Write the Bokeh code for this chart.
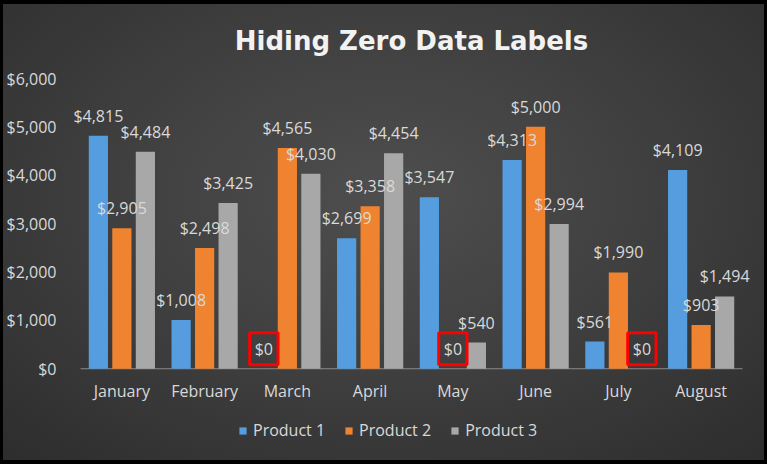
from bokeh.plotting import figure
from bokeh.models import (ColumnDataSource, FactorRange, Range1d, Legend, LegendItem,
                          NumeralTickFormatter, FixedTicker)
from bokeh.transform import dodge
from bokeh.core.properties import value
from bokeh.embed import file_html
from bokeh.resources import INLINE

months = ["January", "February", "March", "April", "May", "June", "July", "August"]
product1 = [4815, 1008, 0, 2699, 3547, 4313, 561, 4109]
product2 = [2905, 2498, 4565, 3358, 0, 5000, 1990, 903]
product3 = [4484, 3425, 4030, 4454, 540, 2994, 0, 1494]
series_names = ["Product 1", "Product 2", "Product 3"]
y_ticks = [0, 1000, 2000, 3000, 4000, 5000, 6000]
title_text = "Hiding Zero Data Labels"

colors = ["#559ddf", "#f0832f", "#a8a8a8"]
offsets = [-0.284, 0.0, 0.284]
bar_w = 0.232
txt = "#d9d9d9"
font = "Open Sans"

# layout (pixels)
cat_left, cat_right = 80, 742          # extent of the category axis line
side_pad = 12                          # extra frame room so edge labels are not clipped
frame_top, axis_y, frame_bottom = 77, 368, 460
y_max = 6000
y_min = -y_max * (frame_bottom - axis_y) / (axis_y - frame_top)
px_per_cat = (cat_right - cat_left) / len(months)
pad_units = side_pad / px_per_cat

p = figure(width=767, height=464,
           x_range=FactorRange(*months, range_padding=pad_units, range_padding_units="absolute"),
           y_range=Range1d(y_min, y_max),
           output_backend="svg", toolbar_location=None,
           min_border_left=cat_left - side_pad, min_border_right=767 - cat_right - side_pad,
           min_border_top=frame_top, min_border_bottom=464 - frame_bottom)

p.styles = {
    "background": "radial-gradient(ellipse 75% 80% at 50% 42%, #4e4e4e 0%, #404040 45%, #2c2c2c 100%)",
    "box-shadow": "inset 3px 4px 0 0 #000, inset -3px -4px 0 0 #000",
}
p.background_fill_color = None
p.border_fill_color = None
p.outline_line_color = None
p.grid.visible = False

p.title.text = title_text
p.title.align = "center"
p.title.text_font = "DejaVu Sans"
p.title.text_font_style = "bold"
p.title.text_font_size = "26px"
p.title.text_color = "#f2f2f2"
p.title.standoff = 46

p.yaxis.ticker = FixedTicker(ticks=y_ticks)
p.yaxis.formatter = NumeralTickFormatter(format="$0,0")
p.yaxis.axis_line_color = None
p.yaxis.major_tick_line_color = None
p.yaxis.minor_tick_line_color = None
p.yaxis.major_label_text_color = txt
p.yaxis.major_label_text_font = font
p.yaxis.major_label_text_font_size = "16px"
p.yaxis.major_label_standoff = 6
p.xaxis.visible = False

# category axis line
asrc = ColumnDataSource(dict(a=[months[0]], b=[months[-1]], y=[0]))
p.segment(x0=dodge("a", -0.5, range=p.x_range), x1=dodge("b", 0.5, range=p.x_range),
          y0="y", y1="y", source=asrc, line_color="#8a8a8a", line_width=1)

# month labels under the axis line
msrc = ColumnDataSource(dict(month=months, y=[0] * len(months)))
p.text(x="month", y="y", text="month", source=msrc, text_align="center",
       text_baseline="middle", y_offset=22, text_color=txt, text_font=value(font),
       text_font_size="16px")

all_vals = [product1, product2, product3]
items = []
for name, vals, col, off in zip(series_names, all_vals, colors, offsets):
    src = ColumnDataSource(dict(month=months, val=vals))
    r = p.vbar(x=dodge("month", off, range=p.x_range), top="val", width=bar_w, source=src,
               fill_color=col, line_color=None)
    items.append(LegendItem(label=name, renderers=[r]))

for vals, off in zip(all_vals, offsets):
    nz = [i for i, v in enumerate(vals) if v != 0]
    z = [i for i, v in enumerate(vals) if v == 0]
    src_nz = ColumnDataSource(dict(month=[months[i] for i in nz], val=[vals[i] for i in nz],
                                   label=["${:,}".format(vals[i]) for i in nz]))
    p.text(x=dodge("month", off, range=p.x_range), y="val", text="label", source=src_nz,
           text_align="center", text_baseline="middle", y_offset=-20,
           text_color=txt, text_font=value(font), text_font_size="16px")
    if z:
        src_z = ColumnDataSource(dict(month=[months[i] for i in z], val=[vals[i] for i in z],
                                      label=["${:,}".format(vals[i]) for i in z]))
        p.text(x=dodge("month", off, range=p.x_range), y="val", text="label", source=src_z,
               text_align="center", text_baseline="middle", y_offset=-20,
               text_color=txt, text_font=value(font), text_font_size="16px",
               border_line_color="#ff0000", border_line_width=3, padding=5)

legend = Legend(items=items, orientation="horizontal",
                location=(238 - (cat_left - side_pad), 19),
                background_fill_alpha=0, border_line_color=None, padding=0, margin=0,
                label_text_color=txt, label_text_font=font, label_text_font_size="16px",
                glyph_width=9, glyph_height=9, label_standoff=6, spacing=19)
p.add_layout(legend, "center")

open("out.html", "w").write(file_html(p, INLINE))
